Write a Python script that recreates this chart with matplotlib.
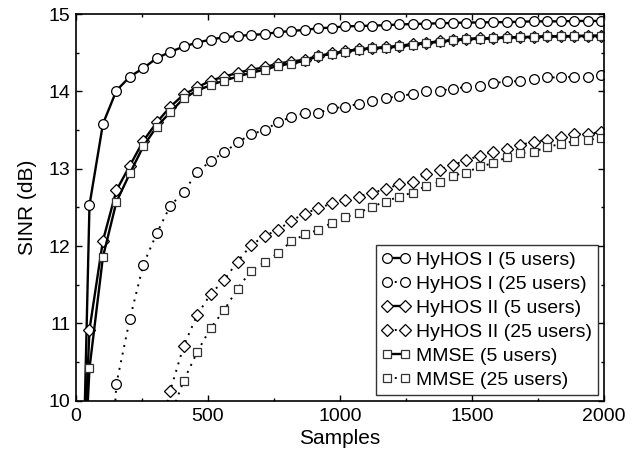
import matplotlib
matplotlib.use("Agg")
import matplotlib.pyplot as plt
from matplotlib.ticker import MultipleLocator

plt.rcParams['font.family'] = ['Liberation Sans', 'DejaVu Sans']

# sample positions of the markers (every 51 samples)
samples = [51, 102, 153, 204, 255, 306, 357, 408, 459, 510, 561, 612, 663, 714,
           765, 816, 867, 918, 969, 1020, 1071, 1122, 1173, 1224, 1275, 1326,
           1377, 1428, 1479, 1530, 1581, 1632, 1683, 1734, 1785, 1836, 1887,
           1938, 1989]

# 5 users
hyhos1_5 = [12.53, 13.58, 14.01, 14.19, 14.30, 14.43, 14.51, 14.58, 14.63, 14.67,
            14.70, 14.715, 14.73, 14.74, 14.765, 14.78, 14.795, 14.815, 14.825,
            14.84, 14.845, 14.85, 14.855, 14.865, 14.87, 14.875, 14.88, 14.885,
            14.89, 14.89, 14.895, 14.895, 14.90, 14.905, 14.905, 14.905, 14.91,
            14.91, 14.91]
hyhos2_5 = [10.92, 12.07, 12.72, 13.04, 13.36, 13.60, 13.80, 13.96, 14.05, 14.14,
            14.19, 14.24, 14.28, 14.31, 14.36, 14.385, 14.41, 14.46, 14.49, 14.52,
            14.545, 14.56, 14.57, 14.59, 14.61, 14.63, 14.645, 14.665, 14.68,
            14.685, 14.69, 14.70, 14.70, 14.705, 14.71, 14.715, 14.715, 14.72, 14.72]
mmse_5 = [10.42, 11.86, 12.57, 12.94, 13.29, 13.545, 13.73, 13.91, 14.01, 14.08,
          14.14, 14.19, 14.24, 14.28, 14.33, 14.36, 14.395, 14.455, 14.485, 14.515,
          14.54, 14.555, 14.565, 14.58, 14.60, 14.625, 14.64, 14.66, 14.675, 14.68,
          14.685, 14.695, 14.70, 14.705, 14.71, 14.71, 14.715, 14.715, 14.72]

# 25 users (curves start later)
hyhos1_25 = [10.22, 11.06, 11.76, 12.165, 12.52, 12.70, 12.955, 13.10, 13.21,
             13.34, 13.445, 13.50, 13.60, 13.67, 13.72, 13.72, 13.78, 13.80, 13.84,
             13.88, 13.91, 13.94, 13.965, 14.00, 14.01, 14.03, 14.06, 14.075,
             14.105, 14.13, 14.13, 14.16, 14.18, 14.18, 14.19, 14.19, 14.21]
hyhos2_25 = [10.13, 10.71, 11.11, 11.38, 11.56, 11.80, 12.01, 12.13, 12.21, 12.33,
             12.42, 12.49, 12.55, 12.59, 12.64, 12.69, 12.735, 12.80, 12.83, 12.93,
             12.985, 13.05, 13.11, 13.17, 13.22, 13.26, 13.31, 13.345, 13.375,
             13.415, 13.445, 13.455, 13.47]
mmse_25 = [10.26, 10.63, 10.94, 11.17, 11.45, 11.68, 11.79, 11.91, 12.06, 12.15,
           12.21, 12.30, 12.37, 12.43, 12.51, 12.575, 12.64, 12.69, 12.78, 12.825,
           12.91, 12.95, 13.03, 13.07, 13.15, 13.20, 13.22, 13.28, 13.32, 13.355,
           13.37, 13.40]

# where each curve enters from below the axis (sample, SINR)
start_hyhos1_5 = (20, 8.0)
start_hyhos2_5 = (20, 8.5)
start_mmse_5 = (30, 9.0)
start_hyhos1_25 = (140, 9.5)
start_hyhos2_25 = (306, 9.4)
start_mmse_25 = (357, 9.8)

labels = ['HyHOS I (5 users)', 'HyHOS I (25 users)', 'HyHOS II (5 users)',
          'HyHOS II (25 users)', 'MMSE (5 users)', 'MMSE (25 users)']


def curve(ax, start, vals, label, marker, ms, ls, lw, mec):
    xs = [start[0]] + samples[len(samples) - len(vals):] + [2000]
    ys = [start[1]] + vals + [vals[-1]]
    ax.plot(xs, ys, color='black', linestyle=ls, linewidth=lw, marker=marker,
            markersize=ms, markerfacecolor='white', markeredgecolor=mec,
            markeredgewidth=0.9, markevery=slice(1, len(xs) - 1), label=label)


def main():
    fig = plt.figure(figsize=(6.41, 4.55), dpi=100)
    ax = fig.add_axes([0.1186, 0.1193, 0.8237, 0.8499])

    dots = (0, (1, 3))
    curve(ax, start_hyhos1_5, hyhos1_5, labels[0], 'o', 7, '-', 1.7, 'black')
    curve(ax, start_hyhos1_25, hyhos1_25, labels[1], 'o', 7, dots, 1.4, 'black')
    curve(ax, start_hyhos2_5, hyhos2_5, labels[2], 'D', 6.3, '-', 1.7, 'black')
    curve(ax, start_hyhos2_25, hyhos2_25, labels[3], 'D', 6.3, dots, 1.4, 'black')
    curve(ax, start_mmse_5, mmse_5, labels[4], 's', 6, '-', 1.7, '#333333')
    curve(ax, start_mmse_25, mmse_25, labels[5], 's', 6, dots, 1.4, '#333333')

    ax.set_xlim(0, 2000)
    ax.set_ylim(10, 15)
    ax.xaxis.set_major_locator(MultipleLocator(500))
    ax.xaxis.set_minor_locator(MultipleLocator(250))
    ax.yaxis.set_major_locator(MultipleLocator(1))
    ax.yaxis.set_minor_locator(MultipleLocator(0.5))
    ax.tick_params(which='both', direction='in', top=True, right=True,
                   labelsize=14, width=1)
    ax.tick_params(which='major', length=4.5)
    ax.tick_params(which='minor', length=2.5)
    ax.tick_params(axis='x', which='major', pad=5)
    ax.tick_params(axis='y', which='major', pad=4)
    for sp in ax.spines.values():
        sp.set_linewidth(1.2)

    ax.set_xlabel('Samples', fontsize=15, labelpad=3)
    ax.set_ylabel('SINR (dB)', fontsize=15, labelpad=8)

    leg = ax.legend(loc='lower right', numpoints=2, fontsize=14, frameon=True,
                    fancybox=False, handlelength=1.5, handletextpad=0.3,
                    labelspacing=0.33, borderpad=0.3, borderaxespad=0.3)
    leg.get_frame().set_edgecolor('black')
    leg.get_frame().set_linewidth(1.0)

    fig.savefig('out.png', dpi=100)


if __name__ == "__main__":
    main()
